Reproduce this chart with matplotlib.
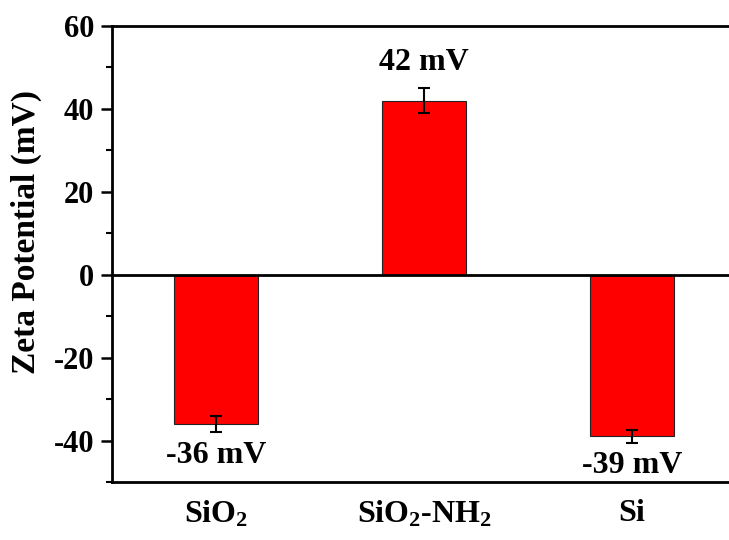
import numpy as np
import matplotlib
matplotlib.use("Agg")
import matplotlib.pyplot as plt
from matplotlib.ticker import MultipleLocator

# ---------- Data ----------
samples = ["SiO$_\\mathrm{2}$", "SiO$_\\mathrm{2}$-NH$_\\mathrm{2}$", "Si"]
zeta = [-36, 42, -39]
zeta_err = [2.0, 3.0, 1.5]
labels = ["-36 mV", "42 mV", "-39 mV"]

# ---------- Style ----------
plt.rcParams["font.family"] = "Liberation Serif"
plt.rcParams["font.weight"] = "bold"
plt.rcParams["axes.unicode_minus"] = False
plt.rcParams["mathtext.fontset"] = "custom"
plt.rcParams["mathtext.rm"] = "Liberation Serif:bold"
plt.rcParams["mathtext.it"] = "Liberation Serif:bold"
plt.rcParams["mathtext.bf"] = "Liberation Serif:bold"

fig = plt.figure(figsize=(7.29, 5.4), dpi=100)
ax = fig.add_axes([112/729, 1-482/540, (736-112)/729, (482-26)/540])

x = np.arange(1, len(zeta) + 1)
ax.bar(x, zeta, width=0.4, color="#ff0000", edgecolor="#222222", linewidth=0.8,
       yerr=zeta_err, error_kw=dict(ecolor="black", elinewidth=1.5, capsize=4, capthick=1.5),
       zorder=2)
ax.axhline(0, color="black", linewidth=2, zorder=3)

# value labels
for xi, v, e, t in zip(x, zeta, zeta_err, labels):
    if v > 0:
        ax.text(xi, v + e + 2.8, t, ha="center", va="bottom", fontsize=23, fontweight="bold")
    else:
        ax.text(xi, v - e - 2.0, t, ha="center", va="top", fontsize=23, fontweight="bold")

# ---------- Axes ----------
ax.set_xlim(0.5, 3.5)
ax.set_ylim(-50, 60)
ax.set_xticks(x)
ax.set_xticklabels(samples, fontsize=23, fontweight="bold")
ax.tick_params(axis="x", length=0, pad=12)
ax.yaxis.set_major_locator(MultipleLocator(20))
ax.yaxis.set_minor_locator(MultipleLocator(10))
ax.tick_params(axis="y", which="major", length=8, width=1.8, labelsize=22, direction="out", pad=5)
ax.tick_params(axis="y", which="minor", length=4.5, width=1.5, direction="out")
for lab in ax.get_yticklabels():
    lab.set_fontweight("bold")
ax.set_ylabel("Zeta Potential (mV)", fontsize=24, fontweight="bold")
ax.yaxis.set_label_coords(-0.112, 0.548)

for s in ["left", "top", "bottom", "right"]:
    ax.spines[s].set_linewidth(2)

fig.savefig("out.png", dpi=100)
